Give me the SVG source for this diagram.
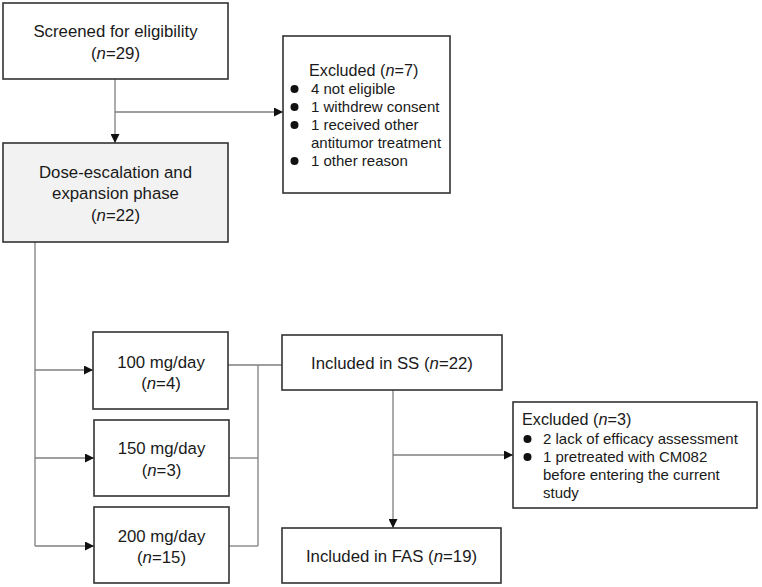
<svg xmlns="http://www.w3.org/2000/svg" width="762" height="587" viewBox="0 0 762 587">
<style>
.box{fill:#fff;stroke:#333;stroke-width:1.6}
.shaded{fill:#f2f2f2}
.t{font-family:"Liberation Sans",Arial,sans-serif;font-size:16.8px;fill:#1a1a1a;text-anchor:middle}
.s{font-family:"Liberation Sans",Arial,sans-serif;font-size:15px;fill:#1a1a1a}
.i{font-style:italic}
.c{fill:none;stroke:#7f7f7f;stroke-width:1.3}
.dot{fill:#111}
</style>
<defs>
<marker id="ah" viewBox="0 0 10 10" refX="10" refY="5" markerWidth="10" markerHeight="9" markerUnits="userSpaceOnUse" orient="auto">
<path d="M0,0 L10,5 L0,10 Z" fill="#111"/>
</marker>
</defs>
<rect width="762" height="587" fill="#fff"/>
<g id="connectors">
<path class="c" d="M115,79 V143" marker-end="url(#ah)"/>
<path class="c" d="M115,112 H283" marker-end="url(#ah)"/>
<path class="c" d="M35,242 V546"/>
<path class="c" d="M35,370 H93" marker-end="url(#ah)"/>
<path class="c" d="M35,458 H94" marker-end="url(#ah)"/>
<path class="c" d="M35,546 H94" marker-end="url(#ah)"/>
<path class="c" d="M228,365 H282"/>
<path class="c" d="M258,365 V546"/>
<path class="c" d="M229,458 H258"/>
<path class="c" d="M229,546 H258"/>
<path class="c" d="M393,390 V528" marker-end="url(#ah)"/>
<path class="c" d="M393,455 H513" marker-end="url(#ah)"/>
</g>
<g id="screened">
<rect class="box" x="3" y="3" width="225" height="76"/>
<text class="t" x="115.5" y="37">Screened for eligibility</text>
<text class="t" x="115.5" y="59">(<tspan class="i">n</tspan>=29)</text>
</g>
<g id="excluded1">
<rect class="box" x="283" y="36" width="167" height="157"/>
<text class="s" x="309" y="76" style="font-size:16.2px">Excluded (<tspan class="i">n</tspan>=7)</text>
<circle class="dot" cx="294.5" cy="89" r="4"/>
<circle class="dot" cx="294.5" cy="107" r="4"/>
<circle class="dot" cx="294.5" cy="125" r="4"/>
<circle class="dot" cx="294.5" cy="161" r="4"/>
<text class="s" x="311" y="94">4 not eligible</text>
<text class="s" x="311" y="112">1 withdrew consent</text>
<text class="s" x="311" y="130">1 received other</text>
<text class="s" x="311" y="148">antitumor treatment</text>
<text class="s" x="311" y="166">1 other reason</text>
</g>
<g id="dose-escalation">
<rect class="box shaded" x="3" y="143" width="225" height="99"/>
<text class="t" x="115.5" y="178">Dose-escalation and</text>
<text class="t" x="115.5" y="199">expansion phase</text>
<text class="t" x="115.5" y="221">(<tspan class="i">n</tspan>=22)</text>
</g>
<g id="dose100">
<rect class="box" x="93" y="332" width="135" height="77"/>
<text class="t" x="161" y="368">100 mg/day</text>
<text class="t" x="161" y="389">(<tspan class="i">n</tspan>=4)</text>
</g>
<g id="dose150">
<rect class="box" x="94" y="420" width="135" height="76"/>
<text class="t" x="161.5" y="454">150 mg/day</text>
<text class="t" x="161.5" y="476">(<tspan class="i">n</tspan>=3)</text>
</g>
<g id="dose200">
<rect class="box" x="94" y="507" width="135" height="76"/>
<text class="t" x="161.5" y="542">200 mg/day</text>
<text class="t" x="161.5" y="563">(<tspan class="i">n</tspan>=15)</text>
</g>
<g id="included-ss">
<rect class="box" x="282" y="335" width="220" height="55"/>
<text class="t" x="392" y="369">Included in SS (<tspan class="i">n</tspan>=22)</text>
</g>
<g id="excluded2">
<rect class="box" x="513" y="402" width="244" height="106"/>
<text class="s" x="522" y="425" style="font-size:16.2px">Excluded (<tspan class="i">n</tspan>=3)</text>
<circle class="dot" cx="527.5" cy="439" r="4"/>
<circle class="dot" cx="527.5" cy="457" r="4"/>
<text class="s" x="543" y="444">2 lack of efficacy assessment</text>
<text class="s" x="543" y="462">1 pretreated with CM082</text>
<text class="s" x="543" y="480">before entering the current</text>
<text class="s" x="543" y="498">study</text>
</g>
<g id="included-fas">
<rect class="box" x="282" y="528" width="219" height="55"/>
<text class="t" x="391.5" y="562">Included in FAS (<tspan class="i">n</tspan>=19)</text>
</g>
</svg>
